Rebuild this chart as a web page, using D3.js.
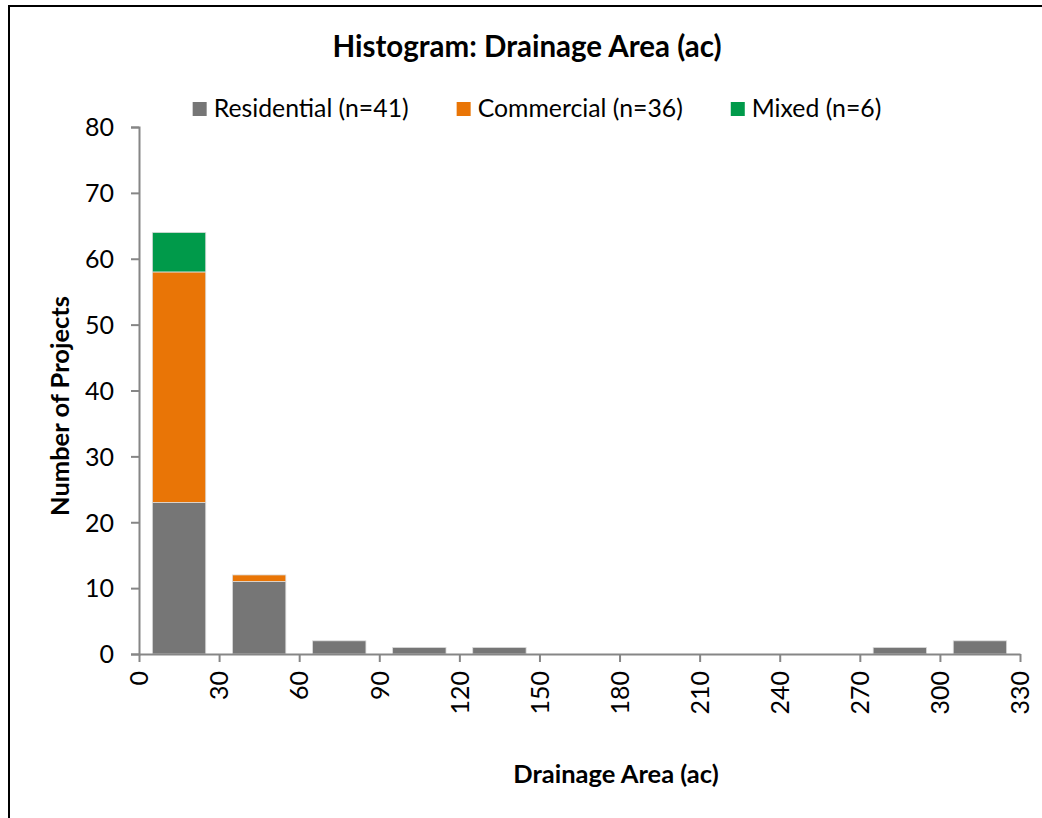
<!DOCTYPE html>
<html>
<head>
<meta charset="utf-8">
<script src="https://cdn.jsdelivr.net/npm/d3@7"></script>
<style>
  html, body { margin: 0; padding: 0; background: #fff; }
  svg { display: block; font-family: Lato, "Open Sans", sans-serif; }
</style>
</head>
<body>
<svg id="chart" width="1042" height="818"></svg>
<script>
// Histogram bins (acres), 30-ac wide
const binStarts = [0, 30, 60, 90, 120, 150, 180, 210, 240, 270, 300];
const binWidth = 30;

// Project counts per bin, by land-use type
const residential = [23, 11, 2, 1, 1, 0, 0, 0, 0, 1, 2];
const commercial  = [35, 1, 0, 0, 0, 0, 0, 0, 0, 0, 0];
const mixed       = [6, 0, 0, 0, 0, 0, 0, 0, 0, 0, 0];

const seriesNames = ["Residential (n=41)", "Commercial (n=36)", "Mixed (n=6)"];
const seriesColors = ["#767676", "#e97506", "#009a4a"];

const xTicks = [0, 30, 60, 90, 120, 150, 180, 210, 240, 270, 300, 330];
const yTicks = [0, 10, 20, 30, 40, 50, 60, 70, 80];

const svg = d3.select("#chart");

// outer frame
svg.append("rect")
  .attr("x", 9).attr("y", 6)
  .attr("width", 1100).attr("height", 900)
  .attr("fill", "none").attr("stroke", "#000").attr("stroke-width", 2);

const plotLeft = 139, plotRight = 1020, plotTop = 127, plotBottom = 654;

const x = d3.scaleLinear().domain([0, 330]).range([plotLeft, plotRight]);
const band = d3.scaleBand()
  .domain(binStarts)
  .range([plotLeft, plotRight])
  .paddingInner(1 / 3)
  .paddingOuter(1 / 6);
const y = d3.scaleLinear().domain([0, 80]).range([plotBottom, plotTop]);

// stack the three series
const rows = binStarts.map((b, i) => ({ bin: b, r: residential[i], c: commercial[i], m: mixed[i] }));
const stacked = d3.stack().keys(["r", "c", "m"])(rows);

const bars = svg.append("g");
stacked.forEach((layer, k) => {
  bars.selectAll(null)
    .data(layer.filter(d => d[1] - d[0] > 0))
    .join("rect")
    .attr("x", d => band(d.data.bin))
    .attr("width", band.bandwidth())
    .attr("y", d => y(d[1]))
    .attr("height", d => y(d[0]) - y(d[1]))
    .attr("fill", seriesColors[k])
    .attr("stroke", "#dcdcdc")
    .attr("stroke-width", 0.8);
});

const axisColor = "#868686";
const tickFont = 25;

// y axis
const yAxis = svg.append("g")
  .attr("transform", `translate(${plotLeft},0)`)
  .call(d3.axisLeft(y).tickValues(yTicks).tickSize(8).tickPadding(17));
yAxis.select(".domain").attr("stroke", axisColor).attr("stroke-width", 2);
yAxis.selectAll(".tick line").attr("stroke", axisColor).attr("stroke-width", 2);
yAxis.selectAll(".tick text")
  .attr("fill", "#000").attr("font-size", tickFont).attr("font-family", "Lato, sans-serif")
  .attr("dy", "0.35em");

// x axis
const xAxis = svg.append("g")
  .attr("transform", `translate(0,${plotBottom})`)
  .call(d3.axisBottom(x).tickValues(xTicks).tickSize(8).tickSizeOuter(0));
xAxis.select(".domain").attr("stroke", axisColor).attr("stroke-width", 2);
xAxis.selectAll(".tick line").attr("stroke", axisColor).attr("stroke-width", 2);
xAxis.selectAll(".tick text")
  .attr("fill", "#000").attr("font-size", tickFont).attr("font-family", "Lato, sans-serif")
  .attr("text-anchor", "end")
  .attr("transform", "rotate(-90)")
  .attr("x", -17).attr("y", 0).attr("dy", "0.35em");

// title
svg.append("text")
  .attr("x", 527).attr("y", 57)
  .attr("text-anchor", "middle")
  .attr("font-size", 29.5).attr("font-weight", "bold")
  .text("Histogram: Drainage Area (ac)");

// axis titles
svg.append("text")
  .attr("x", 616).attr("y", 783)
  .attr("text-anchor", "middle")
  .attr("font-size", 25.5).attr("font-weight", "bold")
  .text("Drainage Area (ac)");

svg.append("text")
  .attr("transform", "translate(69,406) rotate(-90)")
  .attr("text-anchor", "middle")
  .attr("font-size", 25.5).attr("font-weight", "bold")
  .text("Number of Projects");

// legend, laid out left to right and centred
const legend = svg.append("g");
const items = seriesNames.map((name, i) => {
  const g = legend.append("g");
  g.append("rect").attr("width", 14).attr("height", 14).attr("y", -14)
    .attr("fill", seriesColors[i]);
  const t = g.append("text").attr("x", 21).attr("y", 0).attr("dy", "0.02em")
    .attr("font-size", 24.8).text(name);
  return { g, w: 21 + t.node().getComputedTextLength() };
});
const gap = 48;
const total = d3.sum(items, d => d.w) + gap * (items.length - 1);
let cx = 537 - total / 2;
items.forEach(it => {
  it.g.attr("transform", `translate(${cx},116)`);
  cx += it.w + gap;
});
</script>
</body>
</html>
